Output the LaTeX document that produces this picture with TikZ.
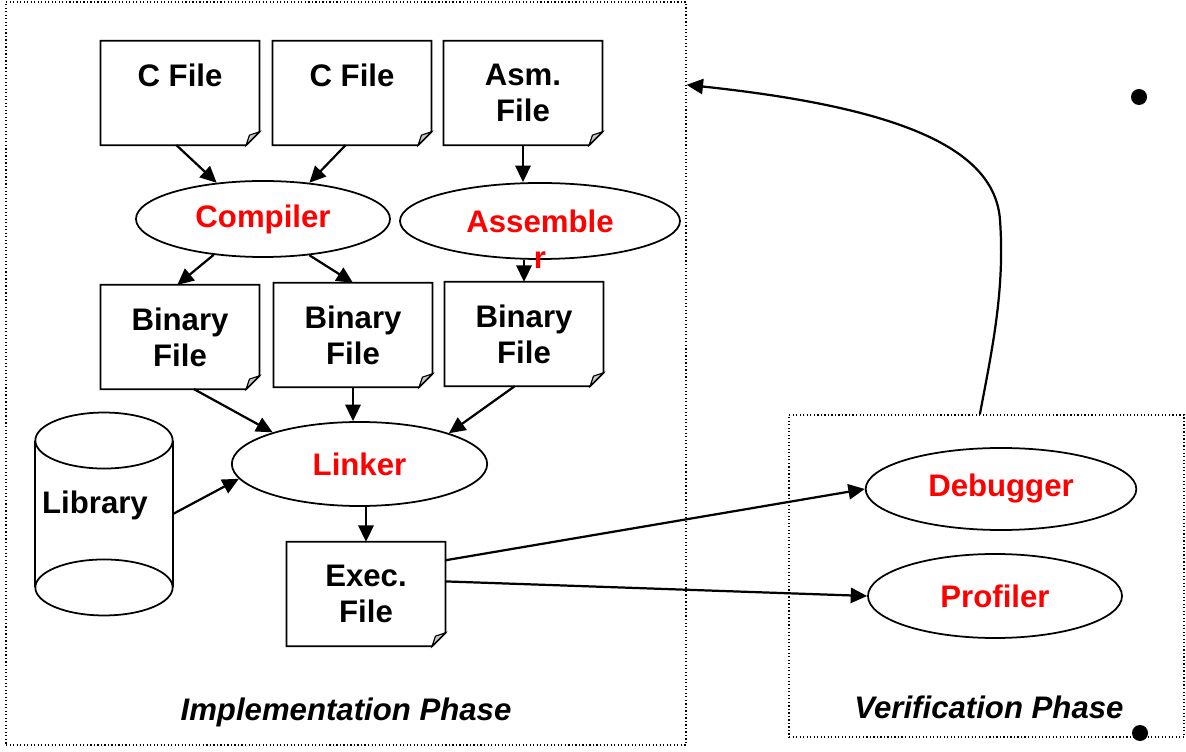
\documentclass[tikz,border=0pt]{standalone}
\usepackage{fontspec}
\setmainfont{Liberation Sans}
\usetikzlibrary{arrows.meta, positioning, shapes.geometric}
\definecolor{toolred}{RGB}{255,0,0}
\definecolor{foldgray}{RGB}{200,200,200}

\begin{document}
\begin{tikzpicture}[x=0.015cm, y=-0.015cm,
    txt/.style={font=\bfseries\fontsize{13.3}{15.3}\selectfont},
    docfile/.style={txt, minimum width=2.37cm, minimum height=1.55cm, inner sep=0pt, align=center},
    tool/.style={txt, ellipse, draw, line width=0.75pt, text=toolred, inner sep=0pt},
    phase/.style={draw, densely dotted, line width=0.5pt, inner sep=0pt},
    flow/.style={-{Triangle[length=7pt, width=6.5pt]}, line width=0.95pt}]
    \useasboundingbox (0,0) rectangle (1186,752);

    % phase frames
    \node[phase, minimum width=10.2cm, minimum height=11.145cm] (impl) at (346,373.5) {};
    \node[phase, minimum width=5.925cm, minimum height=4.83cm] (verif) at (986.5,576) {};

    % files
    \node[docfile] (cf1) at (180,93) {C File\\~};
    \node[docfile] (cf2) at (352,93) {C File\\~};
    \node[docfile] (asm) at (523,93) {Asm.\\File};
    \node[docfile] (bf1) at (180,337) {Binary\\File};
    \node[docfile] (bf2) at (353,335) {Binary\\File};
    \node[docfile] (bf3) at (524,334) {Binary\\File};
    \node[docfile] (exe) at (366,594) {Exec.\\File};
    \foreach \n in {cf1,cf2,asm,bf1,bf2,bf3,exe} {
      \draw[line width=0.75pt] (\n.north west) -- (\n.north east) -- ([yshift=0.2cm]\n.south east)
        -- ([xshift=-0.2cm]\n.south east) -- (\n.south west) -- cycle;
      \filldraw[fill=foldgray, line width=0.5pt] ([yshift=0.2cm]\n.south east) -- ([xshift=-0.2cm]\n.south east)
        -- ([xshift=-0.15cm, yshift=0.15cm]\n.south east) -- cycle; % folded corner
    }

    % tools
    \node[tool, minimum width=3.81cm, minimum height=1.14cm] (comp) at (263,219) {Compiler};
    \node[tool, minimum width=4.2cm, minimum height=1.14cm,
      label={[txt, text=toolred, anchor=center, inner sep=0pt]south:r}] (asmb) at (540,221) {Assemble};
    \node[tool, minimum width=3.83cm, minimum height=1.26cm] (link) at (359.5,464) {Linker};
    \node[tool, minimum width=4.06cm, minimum height=1.23cm] (dbg) at (1001,489) {Debugger};
    \node[tool, minimum width=3.81cm, minimum height=1.26cm] (prof) at (995,596) {Profiler};

    % library cylinder
    \node[minimum width=2.055cm, minimum height=2.19cm, inner sep=0pt] (lib) at (104,514) {};
    \draw[line width=0.75pt] (lib.north west) -- (lib.south west) (lib.north east) -- (lib.south east);
    \draw[line width=0.75pt] (lib.north) ellipse (1.03cm and 0.42cm) (lib.south) ellipse (1.03cm and 0.42cm);
    \node[txt] (libtxt) at (95,505) {Library};

    % connectors
    \draw[flow] (cf1.266) -- (comp.142);
    \draw[flow] (cf2.263) -- (comp.38);
    \draw[flow] (asm.south) -- (asm.south |- asmb.north);
    \draw[flow] (comp.216) -- (bf1.93);
    \draw[flow] (comp.322) -- (bf2.north);
    \draw[flow] (bf3.north |- asmb.south) -- (bf3.north);
    \draw[flow] (bf1.-75) -- (link.160);
    \draw[flow] (bf2.south) -- (bf2.south |- link.north);
    \draw[flow] (bf3.260) -- (link.19);
    \draw[flow] (lib.east) -- (link.187);
    \draw[flow] (exe.north |- link.south) -- (exe.north);
    \draw[flow] (exe.23) -- (dbg.west);
    \draw[flow] (exe.9) -- (prof.west);
    \draw[flow] ([xshift=-0.1cm]verif.north) .. controls (992,350) and (1005,290) .. (1000,220)
      .. controls (995,150) and (905,108) .. ([yshift=4.33cm]impl.east);

    % phase titles
    \node[font=\bfseries\itshape\fontsize{13.3}{15.3}\selectfont] (impllbl) at (346,712) {Implementation Phase};
    \node[font=\bfseries\itshape\fontsize{13.3}{15.3}\selectfont] (veriflbl) at (989,707) {Verification Phase};

    % bullets
    \fill (1139,97) circle (0.12cm);
    \fill (1140,733) circle (0.12cm);
  \end{tikzpicture}
\end{document}
